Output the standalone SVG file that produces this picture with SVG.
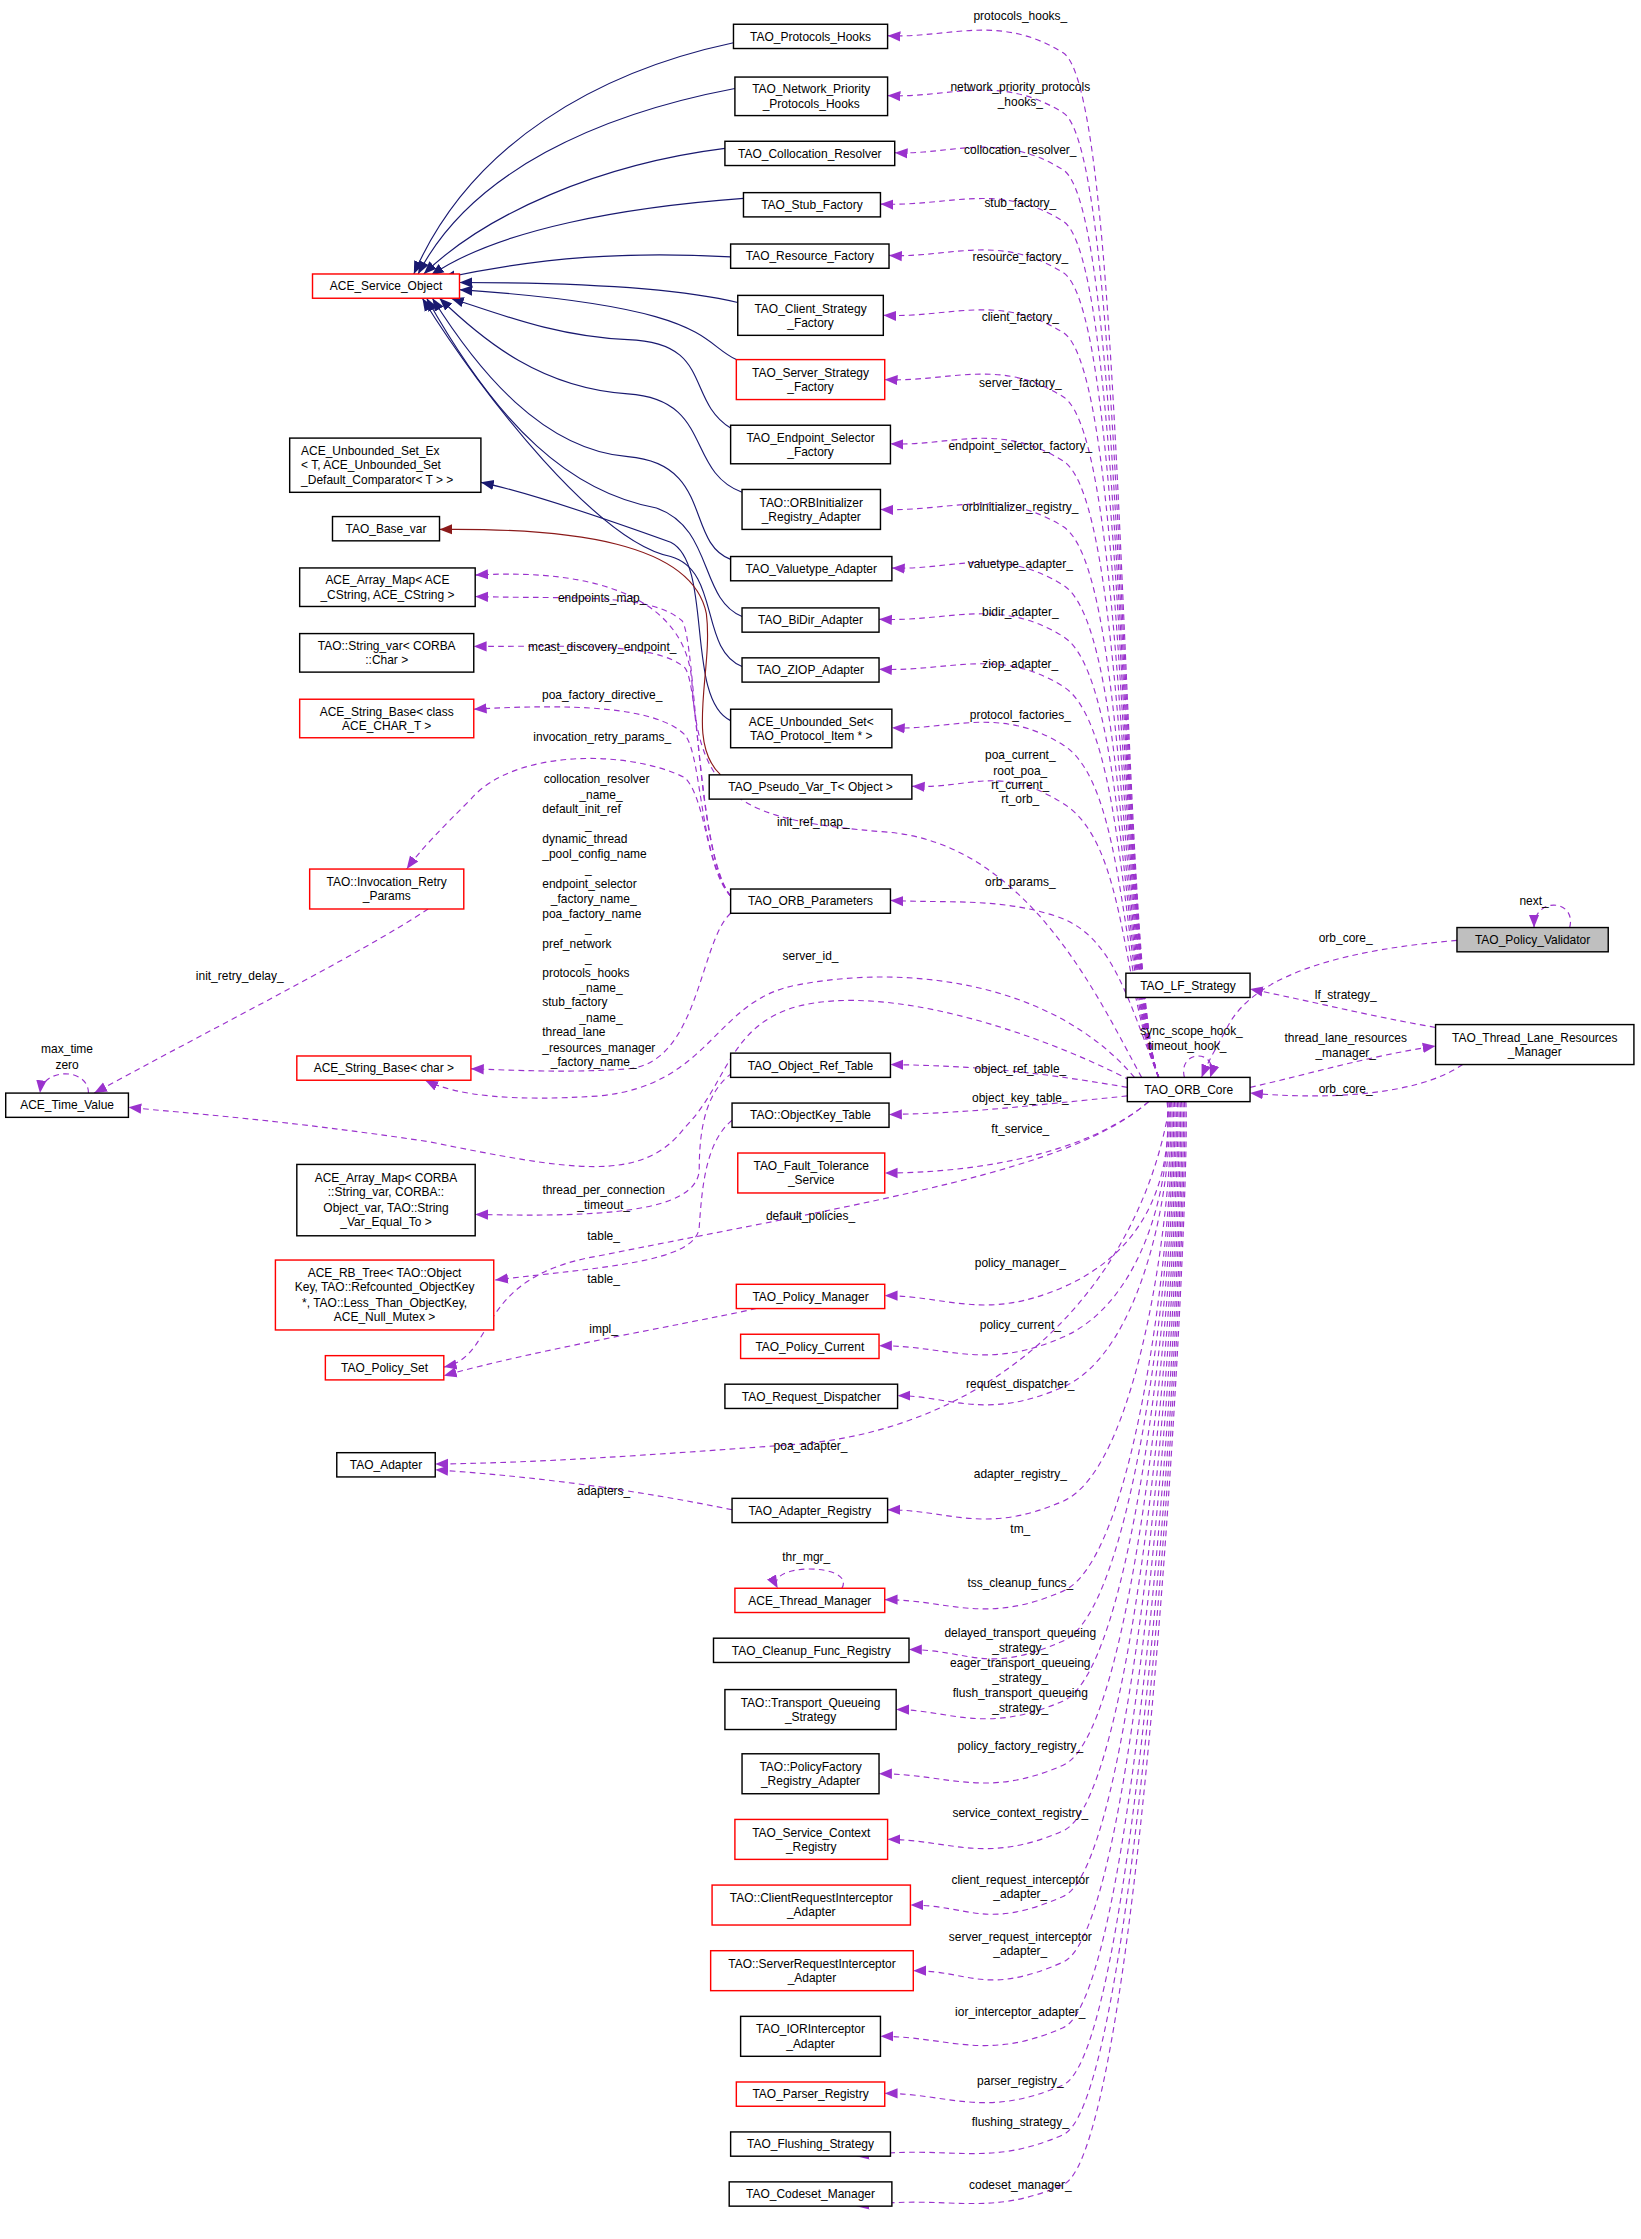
<svg xmlns="http://www.w3.org/2000/svg" width="1641" height="2239" viewBox="0 0 1641 2239">
<style>
text{font-family:"Liberation Sans",Arial,sans-serif;font-size:8.4px;fill:#000}
.n{text-anchor:middle}
rect{fill:#fff;stroke:#000;stroke-width:1}
.r rect{stroke:#ff0000}
.g rect{fill:#bfbfbf}
.d{fill:none;stroke:#9a32cd;stroke-width:0.8;stroke-dasharray:4,3;marker-end:url(#mp)}
.b{fill:none;stroke:#191970;stroke-width:0.8;marker-end:url(#mb)}
.k{fill:none;stroke:#8b1a1a;stroke-width:0.8;marker-end:url(#mk)}
.l{text-anchor:middle}
</style>
<defs>
<marker id="mp" viewBox="0 0 10 10" refX="10" refY="5" markerWidth="9" markerHeight="9" orient="auto" markerUnits="userSpaceOnUse"><path d="M0,1L10,5L0,9z" fill="#9a32cd"/></marker>
<marker id="mb" viewBox="0 0 10 10" refX="10" refY="5" markerWidth="9" markerHeight="9" orient="auto" markerUnits="userSpaceOnUse"><path d="M0,1L10,5L0,9z" fill="#191970"/></marker>
<marker id="mk" viewBox="0 0 10 10" refX="10" refY="5" markerWidth="9" markerHeight="9" orient="auto" markerUnits="userSpaceOnUse"><path d="M0,1L10,5L0,9z" fill="#8b1a1a"/></marker>
</defs>
<rect x="0" y="0" width="1641" height="2239" style="stroke:none;fill:#fff"/>
<g transform="scale(1.427)">
<g id="connectors">
<path class="b" d="M514,30 C420,50 330,100 290,192"/>
<path class="b" d="M515,62 C420,80 330,120 293,192"/>
<path class="b" d="M508,104 C420,115 340,150 297,192"/>
<path class="b" d="M521,139 C440,145 350,160 302,193"/>
<path class="b" d="M512,180 C440,176 380,180 310,195"/>
<path class="b" d="M517,212 C480,203 420,198 322,198"/>
<path class="b" d="M516,252 C490,240 500,215 322,203"/>
<path class="b" d="M512,300 C480,280 500,240 440,238 C390,236 350,220 316,209"/>
<path class="b" d="M520,345 C480,330 500,280 440,276 C380,272 340,240 308,209"/>
<path class="b" d="M512,392 C480,380 500,325 440,320 C380,315 335,260 303,209"/>
<path class="b" d="M520,432 C490,420 500,370 460,356 C400,345 350,300 299,209"/>
<path class="b" d="M520,467 C490,455 505,400 470,390 C420,380 340,280 296,209"/>
<path class="b" d="M512,505 C480,490 500,395 470,380 C420,362 370,345 337,338"/>
<path class="k" d="M505,543 C480,520 500,470 495,430 C485,380 400,370 308,371"/>
<path class="d" d="M812,755 C785,690 790,65 745,37 S665,27 622,25"/>
<path class="d" d="M812,755 C785,690 790,107 745,79 S665,69 622,67"/>
<path class="d" d="M812,755 C785,690 790,147 745,119 S665,109 627,107"/>
<path class="d" d="M812,755 C785,690 790,183 745,155 S665,145 617,143"/>
<path class="d" d="M812,755 C785,690 790,219 745,191 S665,181 623,179"/>
<path class="d" d="M812,755 C785,690 790,261 745,233 S665,223 619,221"/>
<path class="d" d="M812,755 C785,690 790,306 745,278 S665,268 620,266"/>
<path class="d" d="M812,755 C785,690 790,351 745,323 S665,313 624,311"/>
<path class="d" d="M812,755 C785,690 790,397 745,369 S665,359 617,357"/>
<path class="d" d="M812,755 C785,690 790,438 745,410 S665,400 625,398"/>
<path class="d" d="M812,755 C785,690 790,474 745,446 S665,436 616,434"/>
<path class="d" d="M812,755 C785,690 790,509 745,481 S665,471 616,469"/>
<path class="d" d="M812,755 C785,690 790,550 745,522 S665,512 625,510"/>
<path class="d" d="M812,755 C785,690 790,591 745,563 S680,553 639,551"/>
<path class="d" d="M812,755 C790,700 780,655 740,642 S665,633 624,631"/>
<path class="d" d="M800,755 C770,700 720,590 620,583 C520,575 490,560 485,480 C482,420 420,398 333,403"/>
<path class="d" d="M512,628 C488,600 488,450 478,435 C455,415 400,420 333,418"/>
<path class="d" d="M512,628 C490,600 490,480 480,468 C460,450 400,453 332,453"/>
<path class="d" d="M512,628 C490,600 492,530 480,515 C460,495 400,493 332,497"/>
<path class="d" d="M512,628 C495,610 495,560 480,545 C440,525 360,525 330,560 C310,580 295,595 285,609"/>
<path class="d" d="M512,640 C490,660 490,745 440,749 C400,752 360,750 330,749"/>
<path class="d" d="M300,637 C250,670 150,720 66,766"/>
<path class="d" d="M62,766 C62,748 30,748 28,766"/>
<path class="d" d="M795,755 C740,690 640,675 560,690 C500,700 500,760 420,768 C360,772 320,768 298,757"/>
<path class="d" d="M792,757 C720,720 620,690 560,705 C510,718 510,760 480,790 C450,830 400,820 300,800 C200,785 130,780 90,776"/>
<path class="d" d="M790,762 C720,750 680,747 624,746"/>
<path class="d" d="M790,768 C720,775 680,780 623,781"/>
<path class="d" d="M805,772 C760,810 680,822 620,822"/>
<path class="d" d="M513,752 C495,765 490,790 490,820 C488,850 420,853 333,851"/>
<path class="d" d="M513,785 C495,800 492,830 490,860 C488,885 420,888 347,897"/>
<path class="d" d="M805,772 C750,820 620,840 420,880 C330,895 350,950 311,958"/>
<path class="d" d="M530,917 C470,930 380,945 311,964"/>
<path class="d" d="M820,772 C800,900 700,1000 560,1012 C450,1020 380,1025 305,1026"/>
<path class="d" d="M513,1058 C450,1045 380,1035 305,1030"/>
<path class="d" d="M818,772 C822,830 800,878 745,902 S665,908 620,908"/>
<path class="d" d="M818,772 C822,830 800,913 745,937 S665,943 616,943"/>
<path class="d" d="M819,772 C823,830 800,948 745,972 S665,978 629,978"/>
<path class="d" d="M820,772 C824,830 800,1028 745,1052 S665,1058 622,1058"/>
<path class="d" d="M821,772 C825,830 800,1091 745,1115 S665,1121 620,1121"/>
<path class="d" d="M822,772 C826,830 800,1126 745,1150 S680,1156 637,1156"/>
<path class="d" d="M823,772 C827,830 800,1168 745,1192 S665,1198 628,1198"/>
<path class="d" d="M824,772 C828,830 800,1213 745,1237 S665,1243 616,1243"/>
<path class="d" d="M825,772 C829,830 800,1259 745,1283 S665,1289 622,1289"/>
<path class="d" d="M826,772 C830,830 800,1305 745,1329 S680,1335 638,1335"/>
<path class="d" d="M827,772 C831,830 800,1351 745,1375 S680,1381 640,1381"/>
<path class="d" d="M828,772 C832,830 800,1397 745,1421 S665,1427 617,1427"/>
<path class="d" d="M829,772 C833,830 800,1437 745,1461 S665,1467 620,1467"/>
<path class="d" d="M830,772 C834,830 800,1472 745,1496 S665,1502 600,1511"/>
<path class="d" d="M831,772 C835,830 800,1507 745,1531 S665,1537 600,1546"/>
<path class="d" d="M590,1113 C600,1095 535,1095 545,1113"/>
<path class="d" d="M830,755 C825,735 855,735 848,755"/>
<path class="d" d="M1021,659 C950,665 880,680 860,720 C852,735 846,745 842,755"/>
<path class="d" d="M1100,650 C1105,630 1075,628 1075,650"/>
<path class="d" d="M1006,720 C960,712 920,702 876,693"/>
<path class="d" d="M876,762 C920,752 960,740 1006,733"/>
<path class="d" d="M1025,746 C990,770 920,770 876,766"/>
</g>
<g id="labels">
<text class="l" x="715" y="14">protocols_hooks_</text>
<text class="l" x="715" y="64">network_priority_protocols</text>
<text class="l" x="715" y="74">_hooks_</text>
<text class="l" x="715" y="108">collocation_resolver_</text>
<text class="l" x="715" y="145">stub_factory_</text>
<text class="l" x="715" y="183">resource_factory_</text>
<text class="l" x="715" y="225">client_factory_</text>
<text class="l" x="715" y="271">server_factory_</text>
<text class="l" x="715" y="315">endpoint_selector_factory_</text>
<text class="l" x="715" y="358">orbinitializer_registry_</text>
<text class="l" x="715" y="398">valuetype_adapter_</text>
<text class="l" x="715" y="432">bidir_adapter_</text>
<text class="l" x="715" y="468">ziop_adapter_</text>
<text class="l" x="715" y="504">protocol_factories_</text>
<text class="l" x="715" y="532">poa_current_</text>
<text class="l" x="715" y="543">root_poa_</text>
<text class="l" x="715" y="553">rt_current_</text>
<text class="l" x="715" y="563">rt_orb_</text>
<text class="l" x="570" y="579">init_ref_map_</text>
<text class="l" x="715" y="621">orb_params_</text>
<text class="l" x="568" y="673">server_id_</text>
<text class="l" x="715" y="752">object_ref_table_</text>
<text class="l" x="715" y="772">object_key_table_</text>
<text class="l" x="715" y="794">ft_service_</text>
<text class="l" x="568" y="855">default_policies_</text>
<text class="l" x="715" y="888">policy_manager_</text>
<text class="l" x="715" y="931">policy_current_</text>
<text class="l" x="715" y="973">request_dispatcher_</text>
<text class="l" x="568" y="1016">poa_adapter_</text>
<text class="l" x="715" y="1036">adapter_registry_</text>
<text class="l" x="715" y="1074">tm_</text>
<text class="l" x="715" y="1112">tss_cleanup_funcs_</text>
<text class="l" x="715" y="1147">delayed_transport_queueing</text>
<text class="l" x="715" y="1158">_strategy_</text>
<text class="l" x="715" y="1168">eager_transport_queueing</text>
<text class="l" x="715" y="1179">_strategy_</text>
<text class="l" x="715" y="1189">flush_transport_queueing</text>
<text class="l" x="715" y="1200">_strategy_</text>
<text class="l" x="715" y="1226">policy_factory_registry_</text>
<text class="l" x="715" y="1273">service_context_registry_</text>
<text class="l" x="715" y="1320">client_request_interceptor</text>
<text class="l" x="715" y="1330">_adapter_</text>
<text class="l" x="715" y="1360">server_request_interceptor</text>
<text class="l" x="715" y="1370">_adapter_</text>
<text class="l" x="715" y="1413">ior_interceptor_adapter_</text>
<text class="l" x="715" y="1461">parser_registry_</text>
<text class="l" x="715" y="1490">flushing_strategy_</text>
<text class="l" x="715" y="1534">codeset_manager_</text>
<text class="l" x="422" y="422">endpoints_map_</text>
<text class="l" x="422" y="456">mcast_discovery_endpoint_</text>
<text class="l" x="422" y="490">poa_factory_directive_</text>
<text class="l" x="422" y="519">invocation_retry_params_</text>
<text x="381" y="549">collocation_resolver</text>
<text x="406" y="560">_name_</text>
<text x="380" y="570">default_init_ref</text>
<text x="410" y="581">_</text>
<text x="380" y="591">dynamic_thread</text>
<text x="380" y="601">_pool_config_name</text>
<text x="410" y="612">_</text>
<text x="380" y="622">endpoint_selector</text>
<text x="386" y="633">_factory_name_</text>
<text x="380" y="643">poa_factory_name</text>
<text x="410" y="653">_</text>
<text x="380" y="664">pref_network</text>
<text x="410" y="674">_</text>
<text x="380" y="685">protocols_hooks</text>
<text x="406" y="695">_name_</text>
<text x="380" y="705">stub_factory</text>
<text x="406" y="716">_name_</text>
<text x="380" y="726">thread_lane</text>
<text x="380" y="737">_resources_manager</text>
<text x="386" y="747">_factory_name_</text>
<text class="l" x="168" y="687">init_retry_delay_</text>
<text class="l" x="47" y="738">max_time</text>
<text class="l" x="47" y="749">zero</text>
<text class="l" x="423" y="837">thread_per_connection</text>
<text class="l" x="423" y="847">_timeout_</text>
<text class="l" x="423" y="869">table_</text>
<text class="l" x="423" y="899">table_</text>
<text class="l" x="423" y="934">impl_</text>
<text class="l" x="423" y="1048">adapters_</text>
<text class="l" x="565" y="1094">thr_mgr_</text>
<text class="l" x="835" y="725">sync_scope_hook_</text>
<text class="l" x="832" y="736">timeout_hook_</text>
<text class="l" x="943" y="660">orb_core_</text>
<text class="l" x="1075" y="634">next_</text>
<text class="l" x="943" y="700">lf_strategy_</text>
<text class="l" x="943" y="730">thread_lane_resources</text>
<text class="l" x="943" y="741">_manager_</text>
<text class="l" x="943" y="766">orb_core_</text>
</g>
<g id="n1"><rect x="514" y="17" width="108" height="17"/><text class="n" x="568" y="28.5">TAO_Protocols_Hooks</text></g>
<g id="n2"><rect x="515" y="54" width="107" height="27"/><text class="n" x="568.5" y="65.5">TAO_Network_Priority</text><text class="n" x="568.5" y="75.5">_Protocols_Hooks</text></g>
<g id="n3"><rect x="508" y="99" width="119" height="17"/><text class="n" x="567.5" y="110.5">TAO_Collocation_Resolver</text></g>
<g id="n4"><rect x="521" y="135" width="96" height="17"/><text class="n" x="569" y="146.5">TAO_Stub_Factory</text></g>
<g id="n5"><rect x="512" y="171" width="111" height="17"/><text class="n" x="567.5" y="182.5">TAO_Resource_Factory</text></g>
<g id="n6"><rect x="517" y="207" width="102" height="28"/><text class="n" x="568" y="219">TAO_Client_Strategy</text><text class="n" x="568" y="229">_Factory</text></g>
<g id="n7" class="r"><rect x="516" y="252" width="104" height="28"/><text class="n" x="568" y="264">TAO_Server_Strategy</text><text class="n" x="568" y="274">_Factory</text></g>
<g id="n8"><rect x="512" y="298" width="112" height="27"/><text class="n" x="568" y="309.5">TAO_Endpoint_Selector</text><text class="n" x="568" y="319.5">_Factory</text></g>
<g id="n9"><rect x="520" y="343" width="97" height="28"/><text class="n" x="568.5" y="355">TAO::ORBInitializer</text><text class="n" x="568.5" y="365">_Registry_Adapter</text></g>
<g id="n10"><rect x="512" y="390" width="113" height="17"/><text class="n" x="568.5" y="401.5">TAO_Valuetype_Adapter</text></g>
<g id="n11"><rect x="520" y="426" width="96" height="17"/><text class="n" x="568" y="437.5">TAO_BiDir_Adapter</text></g>
<g id="n12"><rect x="520" y="461" width="96" height="17"/><text class="n" x="568" y="472.5">TAO_ZIOP_Adapter</text></g>
<g id="n13"><rect x="512" y="497" width="113" height="27"/><text class="n" x="568.5" y="508.5">ACE_Unbounded_Set&lt;</text><text class="n" x="568.5" y="518.5">TAO_Protocol_Item * &gt;</text></g>
<g id="n14"><rect x="497" y="543" width="142" height="17"/><text class="n" x="568" y="554.5">TAO_Pseudo_Var_T&lt; Object &gt;</text></g>
<g id="n15"><rect x="512" y="623" width="112" height="17"/><text class="n" x="568" y="634.5">TAO_ORB_Parameters</text></g>
<g id="n16"><rect x="512" y="738" width="112" height="17"/><text class="n" x="568" y="749.5">TAO_Object_Ref_Table</text></g>
<g id="n17"><rect x="513" y="773" width="110" height="17"/><text class="n" x="568" y="784.5">TAO::ObjectKey_Table</text></g>
<g id="n18" class="r"><rect x="517" y="808" width="103" height="28"/><text class="n" x="568.5" y="820">TAO_Fault_Tolerance</text><text class="n" x="568.5" y="830">_Service</text></g>
<g id="n19" class="r"><rect x="516" y="900" width="104" height="17"/><text class="n" x="568" y="911.5">TAO_Policy_Manager</text></g>
<g id="n20" class="r"><rect x="519" y="935" width="97" height="17"/><text class="n" x="567.5" y="946.5">TAO_Policy_Current</text></g>
<g id="n21"><rect x="508" y="970" width="121" height="17"/><text class="n" x="568.5" y="981.5">TAO_Request_Dispatcher</text></g>
<g id="n22"><rect x="513" y="1050" width="109" height="17"/><text class="n" x="567.5" y="1061.5">TAO_Adapter_Registry</text></g>
<g id="n23" class="r"><rect x="515" y="1113" width="105" height="17"/><text class="n" x="567.5" y="1124.5">ACE_Thread_Manager</text></g>
<g id="n24"><rect x="500" y="1148" width="137" height="17"/><text class="n" x="568.5" y="1159.5">TAO_Cleanup_Func_Registry</text></g>
<g id="n25"><rect x="508" y="1184" width="120" height="28"/><text class="n" x="568" y="1196">TAO::Transport_Queueing</text><text class="n" x="568" y="1206">_Strategy</text></g>
<g id="n26"><rect x="520" y="1229" width="96" height="28"/><text class="n" x="568" y="1241">TAO::PolicyFactory</text><text class="n" x="568" y="1251">_Registry_Adapter</text></g>
<g id="n27" class="r"><rect x="515" y="1275" width="107" height="28"/><text class="n" x="568.5" y="1287">TAO_Service_Context</text><text class="n" x="568.5" y="1297">_Registry</text></g>
<g id="n28" class="r"><rect x="499" y="1321" width="139" height="28"/><text class="n" x="568.5" y="1333">TAO::ClientRequestInterceptor</text><text class="n" x="568.5" y="1343">_Adapter</text></g>
<g id="n29" class="r"><rect x="498" y="1367" width="142" height="28"/><text class="n" x="569" y="1379">TAO::ServerRequestInterceptor</text><text class="n" x="569" y="1389">_Adapter</text></g>
<g id="n30"><rect x="519" y="1413" width="98" height="28"/><text class="n" x="568" y="1425">TAO_IORInterceptor</text><text class="n" x="568" y="1435">_Adapter</text></g>
<g id="n31" class="r"><rect x="516" y="1459" width="104" height="17"/><text class="n" x="568" y="1470.5">TAO_Parser_Registry</text></g>
<g id="n32"><rect x="512" y="1494" width="112" height="17"/><text class="n" x="568" y="1505.5">TAO_Flushing_Strategy</text></g>
<g id="n33"><rect x="511" y="1529" width="114" height="17"/><text class="n" x="568" y="1540.5">TAO_Codeset_Manager</text></g>
<g id="n34" class="r"><rect x="219" y="192" width="103" height="17"/><text class="n" x="270.5" y="203.5">ACE_Service_Object</text></g>
<g id="n35"><rect x="203" y="307" width="134" height="38"/><text x="211" y="319">ACE_Unbounded_Set_Ex</text><text x="211" y="329">&lt; T, ACE_Unbounded_Set</text><text x="211" y="339.5">_Default_Comparator&lt; T &gt; &gt;</text></g>
<g id="n36"><rect x="233" y="362" width="75" height="17"/><text class="n" x="270.5" y="373.5">TAO_Base_var</text></g>
<g id="n37"><rect x="210" y="398" width="123" height="27"/><text class="n" x="271.5" y="409.5">ACE_Array_Map&lt; ACE</text><text class="n" x="271.5" y="419.5">_CString, ACE_CString &gt;</text></g>
<g id="n38"><rect x="210" y="444" width="122" height="27"/><text class="n" x="271" y="455.5">TAO::String_var&lt; CORBA</text><text class="n" x="271" y="465.5">::Char &gt;</text></g>
<g id="n39" class="r"><rect x="210" y="490" width="122" height="27"/><text class="n" x="271" y="501.5">ACE_String_Base&lt; class</text><text class="n" x="271" y="511.5">ACE_CHAR_T &gt;</text></g>
<g id="n40" class="r"><rect x="217" y="609" width="108" height="28"/><text class="n" x="271" y="621">TAO::Invocation_Retry</text><text class="n" x="271" y="631">_Params</text></g>
<g id="n41" class="r"><rect x="208" y="740" width="122" height="17"/><text class="n" x="269" y="751.5">ACE_String_Base&lt; char &gt;</text></g>
<g id="n42"><rect x="4" y="766" width="86" height="17"/><text class="n" x="47" y="777.5">ACE_Time_Value</text></g>
<g id="n43"><rect x="208" y="816" width="125" height="50"/><text class="n" x="270.5" y="828">ACE_Array_Map&lt; CORBA</text><text class="n" x="270.5" y="838">::String_var, CORBA::</text><text class="n" x="270.5" y="849">Object_var, TAO::String</text><text class="n" x="270.5" y="859">_Var_Equal_To &gt;</text></g>
<g id="n44" class="r"><rect x="193" y="883" width="153" height="49"/><text class="n" x="269.5" y="895">ACE_RB_Tree&lt; TAO::Object</text><text class="n" x="269.5" y="905">Key, TAO::Refcounted_ObjectKey</text><text class="n" x="269.5" y="916">*, TAO::Less_Than_ObjectKey,</text><text class="n" x="269.5" y="926">ACE_Null_Mutex &gt;</text></g>
<g id="n45" class="r"><rect x="228" y="950" width="83" height="17"/><text class="n" x="269.5" y="961.5">TAO_Policy_Set</text></g>
<g id="n46"><rect x="236" y="1018" width="69" height="17"/><text class="n" x="270.5" y="1029.5">TAO_Adapter</text></g>
<g id="n47"><rect x="790" y="755" width="86" height="17"/><text class="n" x="833" y="766.5">TAO_ORB_Core</text></g>
<g id="n48"><rect x="789" y="682" width="87" height="17"/><text class="n" x="832.5" y="693.5">TAO_LF_Strategy</text></g>
<g id="n49" class="g"><rect x="1021" y="650" width="106" height="17"/><text class="n" x="1074" y="661.5">TAO_Policy_Validator</text></g>
<g id="n50"><rect x="1006" y="718" width="139" height="28"/><text class="n" x="1075.5" y="730">TAO_Thread_Lane_Resources</text><text class="n" x="1075.5" y="740">_Manager</text></g>
</g>
</svg>
